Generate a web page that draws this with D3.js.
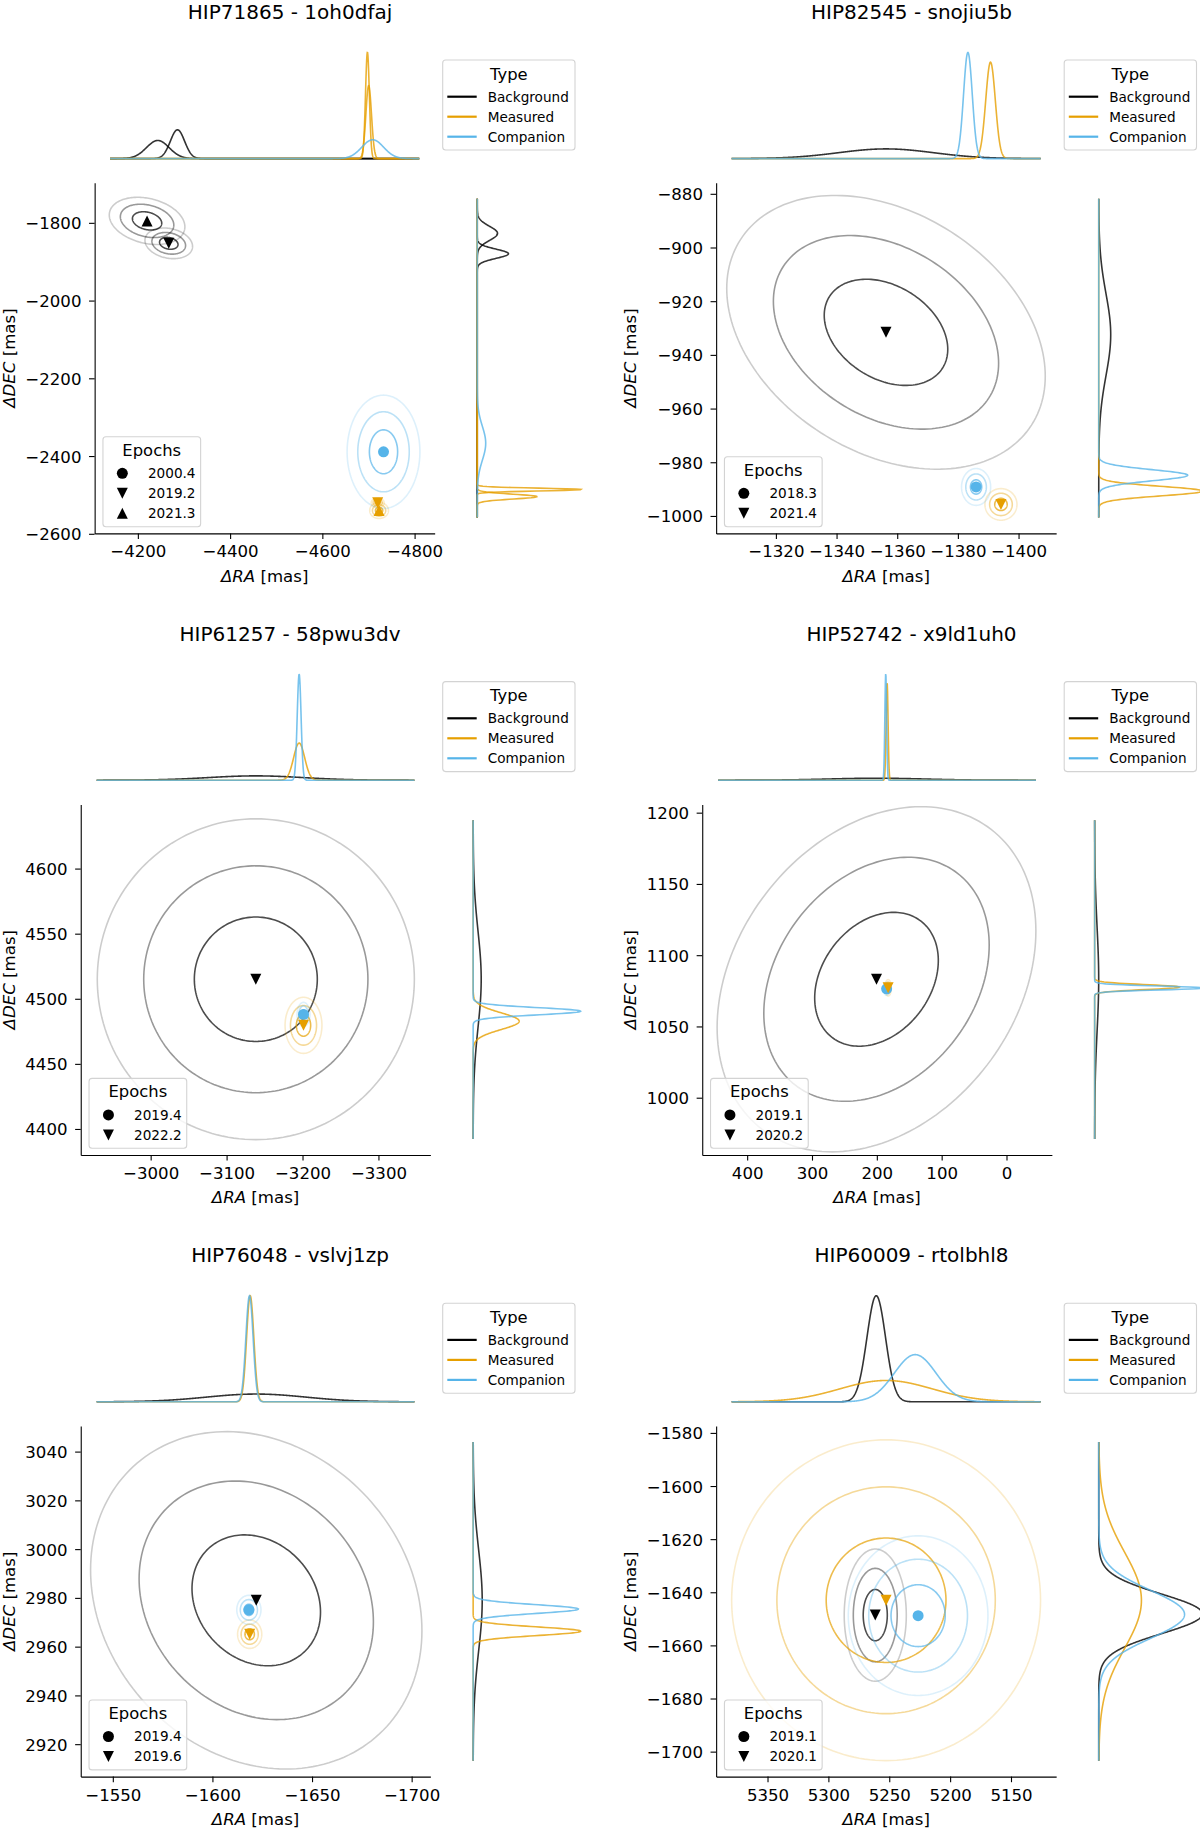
<!DOCTYPE html>
<html>
<head>
<meta charset="utf-8">
<script src="https://cdn.jsdelivr.net/npm/d3@7"></script>
<style>
  body { margin: 0; background: #fff; }
  text { font-family: "DejaVu Sans", sans-serif; fill: #000; }
</style>
</head>
<body>
<div id="chart"></div>
<script>
// ---- data ----
const titles = [
    "HIP71865 - 1oh0dfaj", "HIP82545 - snojiu5b",
    "HIP61257 - 58pwu3dv", "HIP52742 - x9ld1uh0",
    "HIP76048 - vslvj1zp", "HIP60009 - rtolbhl8"
];

// epoch labels per panel (index 0 = circle, 1 = down triangle, 2 = up triangle)
const epochLabels = [
    ["2000.4", "2019.2", "2021.3"],
    ["2018.3", "2021.4"],
    ["2019.4", "2022.2"],
    ["2019.1", "2020.2"],
    ["2019.4", "2019.6"],
    ["2019.1", "2020.1"]
];

// axis limits: RA is drawn reversed (left value first), DEC bottom value first
const xLimits = [
    [-4106.3, -4843.5], [-1300.3, -1412.4],
    [-2907.9, -3368.4], [469.3, -70],
    [-1533.9, -1709.4], [5392.2, 5112.9]
];
const yLimits = [
    [-2599, -1697], [-1006.5, -875.9],
    [4380, 4649.3], [959.8, 1205.8],
    [2906.7, 3050.5], [-1709.4, -1577.4]
];

const xTicks = [
    [-4200, -4400, -4600, -4800],
    [-1320, -1340, -1360, -1380, -1400],
    [-3000, -3100, -3200, -3300],
    [400, 300, 200, 100, 0],
    [-1550, -1600, -1650, -1700],
    [5350, 5300, 5250, 5200, 5150]
];
const yTicks = [
    [-1800, -2000, -2200, -2400, -2600],
    [-880, -900, -920, -940, -960, -980, -1000],
    [4400, 4450, 4500, 4550, 4600],
    [1000, 1050, 1100, 1150, 1200],
    [2920, 2940, 2960, 2980, 3000, 3020, 3040],
    [-1580, -1600, -1620, -1640, -1660, -1680, -1700]
];

const typeNames = ["Background", "Measured", "Companion"];

// panel, type, epoch index, RA, DEC, sigma RA, sigma DEC, correlation
const sources = [
    [0, "Background", 1, -4267, -1852.7, 17, 13, 0.2],
    [0, "Background", 2, -4220, -1795, 27, 20, 0.25],
    [0, "Measured", 1, -4720, -2520, 4.6, 3.9, 0],
    [0, "Measured", 2, -4723, -2540, 6.7, 6.8, 0],
    [0, "Companion", 0, -4732.6, -2389, 26, 48, 0],
    [1, "Background", 1, -1356.3, -931.6, 17.3, 16.8, 0.32],
    [1, "Measured", 1, -1394.2, -995.7, 1.74, 1.94, 0],
    [1, "Companion", 0, -1386, -989.2, 1.58, 2.26, 0],
    [2, "Background", 1, -3138.5, 4515, 68.8, 40.6, 0],
    [2, "Measured", 1, -3201.3, 4479.6, 8.0, 7.1, 0],
    [2, "Companion", 0, -3201.3, 4488, 2.8, 3.04, 0],
    [3, "Background", 1, 200.5, 1083.1, 81, 39.9, -0.28],
    [3, "Measured", 1, 182.6, 1077.1, 1.64, 1.9, 0],
    [3, "Companion", 0, 184.9, 1076.4, 1.5, 1.5, 0],
    [4, "Background", 1, -1622, 2979, 27.4, 22.8, 0.18],
    [4, "Measured", 1, -1618.7, 2965.1, 2.0, 1.92, 0],
    [4, "Companion", 0, -1618.3, 2975.1, 2.0, 1.96, 0],
    [5, "Background", 1, 5261.5, -1648.6, 8.4, 8.2, 0],
    [5, "Measured", 1, 5252.6, -1643, 41.8, 19.9, 0],
    [5, "Companion", 0, 5226.3, -1648.8, 18.9, 9.9, 0]
];

// ---- styling ----
const colors = { Background: "#000000", Measured: "#E69F00", Companion: "#56B4E9" };
const shapes = ["circle", "down", "up"];
const contourLevels = [1.177, 2.146, 3.035];   // 50%, 90%, 99% regions
const contourAlpha = [0.7, 0.4, 0.2];
const markerSize = 11;
const tickFont = 16.6, legendFont = 13.6, legendTitleFont = 16.4, titleFont = 20;

const colStep = 621.5, rowStep = 621.6;
const axTop = 182.8, axBottom = 533.4, panelRight = 586;

const svg = d3.select("#chart")
    .append("svg")
    .attr("width", 1200)
    .attr("height", 1830);

function markerPath(shape) {
    const h = markerSize / 2;
    if (shape === "circle") return d3.symbol(d3.symbolCircle, Math.PI * h * h)();
    if (shape === "down") return `M${-h},${-h}L${h},${-h}L0,${h}Z`;
    return `M${-h},${h}L${h},${h}L0,${-h}Z`;
}

function pdf(v, mu, s) {
    const z = (v - mu) / s;
    return Math.exp(-0.5 * z * z) / (s * Math.sqrt(2 * Math.PI));
}

function sampleRange(lim, n) {
    return d3.range(n + 1).map(i => lim[0] + (lim[1] - lim[0]) * i / n);
}

const fmt = d3.format("");

titles.forEach((title, p) => {
    const g = svg.append("g")
        .attr("transform", `translate(${(p % 2) * colStep}, ${Math.floor(p / 2) * rowStep})`);

    // widest y tick label decides where the left spine sits
    const tmp = g.append("g").style("font-size", tickFont + "px");
    let maxW = 0;
    yTicks[p].forEach(t => {
        const n = tmp.append("text").text(fmt(t));
        maxW = Math.max(maxW, n.node().getComputedTextLength());
    });
    tmp.remove();

    const left = maxW + 38.5;
    const right = left + 0.692 * (panelRight - left);
    const w = right - left, h = axBottom - axTop;
    const mL = right + 37.4, mW = panelRight - mL;

    const x = d3.scaleLinear().domain(xLimits[p]).range([left, right]);
    const y = d3.scaleLinear().domain(yLimits[p]).range([axBottom, axTop]);

    const pts = sources.filter(s => s[0] === p);
    const ordered = typeNames.flatMap(t => pts.filter(s => s[1] === t));

    // title
    g.append("text")
        .attr("x", 290).attr("y", 19)
        .attr("text-anchor", "middle")
        .style("font-size", titleFont + "px")
        .text(title);

    // ---- top marginal (RA densities) ----
    const xs = sampleRange(xLimits[p], 1000);
    const xm = d3.scaleLinear().domain(xLimits[p]).range([left + 0.04545 * w, right - 0.04545 * w]);
    const topCurves = ordered.map(s => ({ type: s[1], vals: xs.map(v => [v, pdf(v, s[3], s[5])]) }));
    const topMax = d3.max(topCurves, c => d3.max(c.vals, d => d[1]));
    const ym = d3.scaleLinear().domain([0, topMax]).range([158.6, 52.5]);

    g.append("g")
        .selectAll("path")
        .data(topCurves)
        .join("path")
        .attr("d", c => d3.line().x(d => xm(d[0])).y(d => ym(d[1]))(c.vals))
        .attr("fill", "none")
        .attr("stroke", c => colors[c.type])
        .attr("stroke-opacity", 0.8)
        .attr("stroke-width", 1.6);

    // ---- right marginal (DEC densities) ----
    const ys = sampleRange(yLimits[p], 1000);
    const yr = d3.scaleLinear().domain(yLimits[p]).range([axBottom - 0.04545 * h, axTop + 0.04545 * h]);
    const rightCurves = ordered.map(s => ({ type: s[1], vals: ys.map(v => [v, pdf(v, s[4], s[6])]) }));
    const rightMax = d3.max(rightCurves, c => d3.max(c.vals, d => d[1]));
    const xr = d3.scaleLinear().domain([0, rightMax]).range([mL + 0.04545 * mW, panelRight - 0.04545 * mW]);

    g.append("g")
        .selectAll("path")
        .data(rightCurves)
        .join("path")
        .attr("d", c => d3.line().x(d => xr(d[1])).y(d => yr(d[0]))(c.vals))
        .attr("fill", "none")
        .attr("stroke", c => colors[c.type])
        .attr("stroke-opacity", 0.8)
        .attr("stroke-width", 1.6);

    // ---- main axes ----
    const clipId = "clip" + p;
    g.append("clipPath").attr("id", clipId)
        .append("rect").attr("x", left).attr("y", axTop).attr("width", w).attr("height", h);

    const plot = g.append("g").attr("clip-path", `url(#${clipId})`);

    // uncertainty ellipses
    const angles = d3.range(0, 2 * Math.PI, Math.PI / 90);
    const ellipses = [];
    ordered.forEach(s => {
        contourLevels.forEach((k, li) => {
            ellipses.push({
                type: s[1], alpha: contourAlpha[li],
                vals: angles.map(t => [
                    s[3] + k * s[5] * Math.cos(t),
                    s[4] + k * (s[7] * s[6] * Math.cos(t) + s[6] * Math.sqrt(1 - s[7] * s[7]) * Math.sin(t))
                ])
            });
        });
    });

    plot.append("g")
        .selectAll("path")
        .data(ellipses)
        .join("path")
        .attr("d", e => d3.line().curve(d3.curveLinearClosed).x(d => x(d[0])).y(d => y(d[1]))(e.vals))
        .attr("fill", "none")
        .attr("stroke", e => colors[e.type])
        .attr("stroke-opacity", e => e.alpha)
        .attr("stroke-width", 1.6);

    // markers
    const markerOrder = ["Companion", "Measured", "Background"].flatMap(t => pts.filter(s => s[1] === t));
    plot.append("g")
        .selectAll("path")
        .data(markerOrder)
        .join("path")
        .attr("transform", s => `translate(${x(s[3])}, ${y(s[4])})`)
        .attr("d", s => markerPath(shapes[s[2]]))
        .attr("fill", s => colors[s[1]]);

    // axes
    const xAxis = g.append("g")
        .attr("transform", `translate(0, ${axBottom})`)
        .call(d3.axisBottom(x).tickValues(xTicks[p]).tickFormat(fmt)
            .tickSize(5.6).tickSizeOuter(0).tickPadding(6.6));
    const yAxis = g.append("g")
        .attr("transform", `translate(${left}, 0)`)
        .call(d3.axisLeft(y).tickValues(yTicks[p]).tickFormat(fmt)
            .tickSize(5.6).tickSizeOuter(0).tickPadding(7.6));

    [xAxis, yAxis].forEach(a => {
        a.attr("font-family", null).attr("font-size", null);
        a.selectAll("text").style("font-size", tickFont + "px").attr("fill", "#000");
        a.selectAll("line").attr("stroke", "#000").attr("stroke-width", 1.1);
        a.select(".domain").attr("stroke", "#000").attr("stroke-width", 1.1);
    });
    yAxis.selectAll("text").attr("dy", "0.36em");

    // axis labels
    const xl = g.append("text")
        .attr("x", (left + right) / 2).attr("y", 581.5)
        .attr("text-anchor", "middle")
        .style("font-size", tickFont + "px");
    xl.append("tspan").attr("font-style", "italic").text("ΔRA");
    xl.append("tspan").text(" [mas]");

    const yl = g.append("text")
        .attr("transform", `translate(14.5, ${(axTop + axBottom) / 2}) rotate(-90)`)
        .attr("text-anchor", "middle")
        .style("font-size", tickFont + "px");
    yl.append("tspan").attr("font-style", "italic").text("ΔDEC");
    yl.append("tspan").text(" [mas]");

    // ---- Type legend ----
    const tl = g.append("g");
    tl.append("rect")
        .attr("x", 442.7).attr("y", 60).attr("width", 132.3).attr("height", 90)
        .attr("rx", 3).attr("fill", "#fff").attr("fill-opacity", 0.8)
        .attr("stroke", "#d3d3d3").attr("stroke-width", 1.1);
    tl.append("text")
        .attr("x", 508.9).attr("y", 79.6)
        .attr("text-anchor", "middle")
        .style("font-size", legendTitleFont + "px")
        .text("Type");
    typeNames.forEach((t, i) => {
        const cy = 96.7 + i * 20;
        tl.append("line")
            .attr("x1", 447.3).attr("x2", 476.7).attr("y1", cy).attr("y2", cy)
            .attr("stroke", colors[t]).attr("stroke-width", 2.2);
        tl.append("text")
            .attr("x", 487.7).attr("y", cy).attr("dy", "0.36em")
            .style("font-size", legendFont + "px")
            .text(t);
    });

    // ---- Epochs legend ----
    const n = epochLabels[p].length;
    const lb = 526.7, lx = left + 8.3;
    const lastC = lb - 13.4;
    const firstC = lastC - (n - 1) * 20;
    const titleY = firstC - 17.5;
    const el = g.append("g");
    el.append("rect")
        .attr("x", lx).attr("y", titleY - 19).attr("width", 97.7).attr("height", lb - titleY + 19)
        .attr("rx", 3).attr("fill", "#fff").attr("fill-opacity", 0.8)
        .attr("stroke", "#d3d3d3").attr("stroke-width", 1.1);
    el.append("text")
        .attr("x", lx + 48.8).attr("y", titleY)
        .attr("text-anchor", "middle")
        .style("font-size", legendTitleFont + "px")
        .text("Epochs");
    epochLabels[p].forEach((lab, i) => {
        const cy = firstC + i * 20;
        el.append("path")
            .attr("transform", `translate(${lx + 19.4}, ${cy})`)
            .attr("d", markerPath(shapes[i]))
            .attr("fill", "#000");
        el.append("text")
            .attr("x", lx + 45).attr("y", cy).attr("dy", "0.36em")
            .style("font-size", legendFont + "px")
            .text(lab);
    });
});
</script>
</body>
</html>
